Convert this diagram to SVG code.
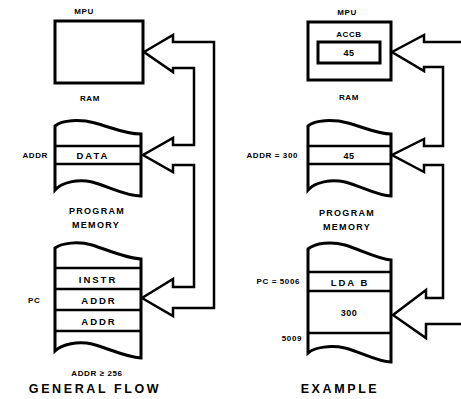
<svg xmlns="http://www.w3.org/2000/svg" width="461" height="399" viewBox="0 0 461 399">
<style>
.bg{fill:#fff}
.box{fill:none;stroke:#000;stroke-width:3}
.ln{fill:none;stroke:#000;stroke-width:2.5}
.arr{fill:none;stroke:#000;stroke-width:2.5;stroke-linejoin:miter}
text{font-family:"Liberation Sans",Arial,sans-serif;font-weight:bold;fill:#000}
.s{font-size:8px;letter-spacing:0.6px}
.p{font-size:9px;letter-spacing:1.3px}
.m{font-size:9.5px;letter-spacing:2px}
.n{font-size:9px;letter-spacing:0.5px}
.c{text-anchor:middle}
.e{text-anchor:end}
.t{font-size:12.5px;letter-spacing:2.6px}
</style>
<rect class="bg" width="461" height="399"/>
<g id="connectors">
<polygon class="arr" points="144,52 173,35 173,42 214,42 214,308 173,308 173,316 142,298 173,279 173,287 194,287 194,165 173,165 173,172 143,155 173,138 173,145 194,145 194,68 173,68 173,72"/>
<polyline class="arr" points="470,42 424,42 424,35 392,52 424,71 424,67 443,67 443,146 424,146 424,139 392,155 424,172 424,165 443,165 443,298 426,298 426,290 393,315 426,338 426,324 470,324"/>
</g>
<g id="mpu-general">
<rect class="box" x="55" y="21" width="88" height="62"/>
<text class="s c" x="84" y="14">MPU</text>
</g>
<g id="ram-general">
<text class="s c" x="90" y="101">RAM</text>
<path class="box" d="M55,126 C62,120 80,119 95,123 C110,127 125,134 141,134 L141,196 C125,196 108,186 92,182 C78,179 62,182 55,190 Z"/>
<line class="ln" x1="55" y1="146" x2="141" y2="146"/>
<line class="ln" x1="55" y1="164" x2="141" y2="164"/>
<text class="s e" x="48" y="158">ADDR</text>
<text class="m c" x="93" y="159">DATA</text>
</g>
<g id="prog-general">
<text class="p c" x="97" y="214">PROGRAM</text>
<text class="p c" x="96" y="228">MEMORY</text>
<path class="box" d="M55,248 C62,243 78,241 92,245 C108,250 125,258 141,259 L141,358 C125,357 108,348 92,344 C78,341 62,344 55,351 Z"/>
<line class="ln" x1="55" y1="268" x2="141" y2="268"/>
<line class="ln" x1="55" y1="289" x2="141" y2="289"/>
<line class="ln" x1="55" y1="310" x2="141" y2="310"/>
<line class="ln" x1="55" y1="331" x2="141" y2="331"/>
<text class="s" x="28" y="303">PC</text>
<text class="m c" x="98" y="283">INSTR</text>
<text class="m c" x="99" y="304">ADDR</text>
<text class="m c" x="99" y="325">ADDR</text>
<text class="s c" x="97" y="376">ADDR ≥ 256</text>
<text class="t c" x="95" y="393">GENERAL FLOW</text>
</g>
<g id="mpu-example">
<rect class="box" x="308" y="22" width="83" height="58"/>
<text class="s c" x="347" y="15">MPU</text>
<text class="s c" x="349" y="37">ACCB</text>
<rect class="box" x="318" y="42" width="62" height="21"/>
<text class="n c" x="349" y="56">45</text>
</g>
<g id="ram-example">
<text class="s c" x="349" y="100">RAM</text>
<path class="box" d="M308,126 C315,120 333,119 348,123 C363,127 378,134 391,134 L391,196 C378,196 361,186 345,182 C331,179 315,182 308,190 Z"/>
<line class="ln" x1="308" y1="146" x2="391" y2="146"/>
<line class="ln" x1="308" y1="164" x2="391" y2="164"/>
<text class="s e" x="298" y="158">ADDR = 300</text>
<text class="n c" x="349" y="159">45</text>
</g>
<g id="prog-example">
<text class="p c" x="347" y="216">PROGRAM</text>
<text class="p c" x="347" y="230">MEMORY</text>
<path class="box" d="M308,249 C315,243 331,241 345,245 C361,250 378,259 391,260 L391,362 C378,362 361,352 345,348 C331,345 315,347 308,353 Z"/>
<line class="ln" x1="308" y1="272" x2="391" y2="272"/>
<line class="ln" x1="308" y1="291" x2="391" y2="291"/>
<line class="ln" x1="308" y1="333" x2="391" y2="333"/>
<text class="s e" x="300" y="284">PC = 5006</text>
<text class="m c" x="350" y="286">LDA B</text>
<text class="n c" x="349" y="316">300</text>
<text class="s e" x="302" y="341">5009</text>
<text class="t c" x="340" y="393">EXAMPLE</text>
</g>
</svg>
